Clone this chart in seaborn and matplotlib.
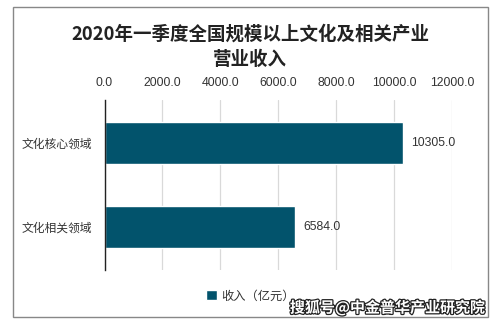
import matplotlib
matplotlib.use("Agg")
import matplotlib.pyplot as plt
import matplotlib.patheffects as pe
from matplotlib.patches import Rectangle
import seaborn as sns
import pandas as pd

categories = ["文化核心领域", "文化相关领域"]
revenue = [10305.0, 6584.0]
series_name = "收入（亿元）"
title = "2020年一季度全国规模以上文化及相关产业\n营业收入"
ticks = [0, 2000, 4000, 6000, 8000, 10000, 12000]
watermark = "搜狐号@中金普华产业研究院"

sns.set_theme(style="white")
plt.rcParams["font.family"] = ["Noto Sans CJK SC", "DejaVu Sans"]

bar_color = "#02536c"
text_color = "#333333"

df = pd.DataFrame({"领域": categories, "收入": revenue})

fig = plt.figure(figsize=(5.0, 3.24), dpi=100)
ax = fig.add_axes([0.209, 0.167, 0.695, 0.524])

sns.barplot(data=df, x="收入", y="领域", color=bar_color, width=0.5,
            saturation=1, ax=ax, label=series_name)

ax.set_xlim(0, 12000)
ax.set_ylim(1.51, -0.51)
ax.set_xticks(ticks)
ax.set_xticklabels([f"{t:.1f}" for t in ticks], fontsize=8.8,
                   color=text_color, family="Liberation Sans")
ax.xaxis.tick_top()
ax.tick_params(axis="x", length=0, pad=8)
ax.tick_params(axis="y", length=0, pad=9, labelsize=8.5, labelcolor=text_color)
ax.set_xlabel("")
ax.set_ylabel("")
ax.grid(axis="x", color="#d9d9d9", linewidth=0.9)
ax.set_axisbelow(True)
for side in ("top", "right", "bottom"):
    ax.spines[side].set_visible(False)
ax.spines["left"].set_color("#222222")
ax.spines["left"].set_linewidth(1.0)

for i, v in enumerate(revenue):
    ax.text(v + 280, i, f"{v:.1f}", va="center", ha="left", fontsize=8.8,
            color=text_color, family="Liberation Sans")

fig.text(0.5, 0.856, title, ha="center", va="center", fontsize=13.3,
         fontweight="bold", color="#222222", linespacing=1.4)

leg = ax.legend(loc="upper center", bbox_to_anchor=(0.42, -0.05), frameon=False,
                fontsize=8.8, handlelength=0.9, handleheight=0.9,
                handletextpad=0.35)
for t in leg.get_texts():
    t.set_color(text_color)

# outer frame around the chart
fig.patches.append(Rectangle((0.025, 0.022), 0.951, 0.956, transform=fig.transFigure,
                             fill=False, edgecolor="#888888", linewidth=1.0))

fig.text(0.97, 0.05, watermark, ha="right", va="center", fontsize=10.8,
         fontweight="bold", color="white",
         path_effects=[pe.withStroke(linewidth=1.8, foreground="#222222")])

fig.savefig("out.png", dpi=100, facecolor="white")
